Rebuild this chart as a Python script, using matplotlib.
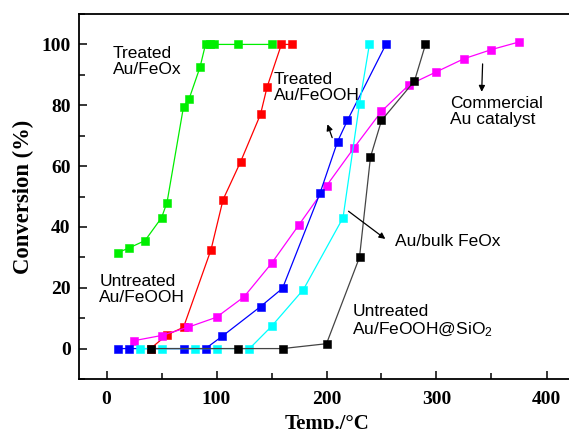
import matplotlib
matplotlib.use("Agg")
import matplotlib.pyplot as plt
from matplotlib.ticker import MultipleLocator

plt.rcParams['font.family'] = 'Liberation Sans'
plt.rcParams['mathtext.fontset'] = 'custom'
plt.rcParams['mathtext.rm'] = 'Liberation Sans'
plt.rcParams['mathtext.it'] = 'Liberation Sans:italic'

# --- data ---
green_x = [10, 20, 35, 50, 55, 70, 75, 85, 90, 94, 98, 120, 150]
green_y = [31.5, 33, 35.5, 43, 48, 79.5, 82, 92.5, 100, 100, 100, 100, 100]

red_x = [40, 55, 70, 95, 106, 122, 140, 146, 159, 169]
red_y = [0, 4.5, 7, 32.5, 49, 61.5, 77, 86, 100, 100]

magenta_x = [25, 50, 74, 100, 125, 150, 175, 200, 225, 250, 275, 300, 325, 350, 375]
magenta_y = [2.6, 4.3, 7, 10.3, 17, 28, 40.7, 53.5, 66, 78, 86.7, 91, 95.3, 98.3, 100.8]

blue_x = [10, 20, 70, 90, 105, 140, 160, 194, 210, 219, 254]
blue_y = [0, 0, 0, 0, 4, 13.8, 19.8, 51, 68, 75, 100]

cyan_x = [30, 50, 80, 100, 130, 150, 179, 215, 230, 239]
cyan_y = [0, 0, 0, 0, 0, 7.3, 19.4, 43, 80.5, 100]

black_x = [40, 120, 160, 200, 230, 240, 250, 280, 290]
black_y = [0, 0, 0, 1.6, 30, 63, 75, 88, 100]

series = [
    (green_x, green_y, '#00ee00'),
    (red_x, red_y, '#ff0000'),
    (magenta_x, magenta_y, '#ff00ff'),
    (blue_x, blue_y, '#0000ff'),
    (cyan_x, cyan_y, '#00ffff'),
    (black_x, black_y, '#000000'),
]

fig = plt.figure(figsize=(5.69, 4.29), dpi=100)
ax = fig.add_axes([79 / 569, 50 / 429, 522.5 / 569, 365 / 429])

for xs, ys, c in series:
    lc = '#444444' if c == '#000000' else c
    ax.plot(xs, ys, '-', color=lc, lw=0.9, marker='s', markersize=6,
            markerfacecolor=c, markeredgecolor=c, markeredgewidth=0.4)

ax.set_xlim(-25, 450)
ax.set_ylim(-10, 110)
ax.xaxis.set_major_locator(MultipleLocator(100))
ax.xaxis.set_minor_locator(MultipleLocator(50))
ax.yaxis.set_major_locator(MultipleLocator(20))
ax.yaxis.set_minor_locator(MultipleLocator(10))
ax.tick_params(which='both', direction='in', width=1.1, top=False, right=False)
ax.tick_params(which='major', length=6)
ax.tick_params(which='minor', length=4)
for s in ax.spines.values():
    s.set_linewidth(1.3)

for lab in ax.get_xticklabels() + ax.get_yticklabels():
    lab.set_fontfamily('Liberation Serif')
    lab.set_fontweight('bold')
    lab.set_fontsize(14)
ax.tick_params(axis='x', pad=9)
ax.tick_params(axis='y', pad=6)

ax.set_xlabel('Temp./°C', fontfamily='Liberation Serif', fontweight='bold',
              fontsize=15)
ax.xaxis.set_label_coords((327 - 79) / 522.5, -0.097)
ax.set_ylabel('Conversion (%)', fontfamily='Liberation Serif', fontweight='bold',
              fontsize=16.3)
ax.yaxis.set_label_coords(-(79 - 34) / 522.5, 0.5)

fs = 12.5
ax.text(5.5, 99.5, 'Treated\nAu/FeOx', fontsize=fs, va='top', ha='left', linespacing=1.1)
ax.text(152, 91, 'Treated\nAu/FeOOH', fontsize=fs, va='top', ha='left', linespacing=1.1)
ax.text(312, 83, 'Commercial\nAu catalyst', fontsize=fs, va='top', ha='left', linespacing=1.1)
ax.text(262, 35.2, 'Au/bulk FeOx', fontsize=fs, va='center', ha='left')
ax.text(223.5, 14.5, 'Untreated\nAu/FeOOH@SiO$_2$', fontsize=fs, va='top', ha='left',
        linespacing=1.1)
ax.text(-6.5, 24.5, 'Untreated\nAu/FeOOH', fontsize=fs, va='top', ha='left', linespacing=1.1)

arrow = dict(arrowstyle='-|>', color='black', lw=0.9, mutation_scale=9)
ax.annotate('', xy=(200, 74.6), xytext=(206, 68.5), arrowprops=arrow)
ax.annotate('', xy=(341, 83.5), xytext=(342, 94.5), arrowprops=arrow)
ax.annotate('', xy=(255.5, 35.5), xytext=(218, 45.7), arrowprops=arrow)

fig.savefig('out.png', dpi=100)
